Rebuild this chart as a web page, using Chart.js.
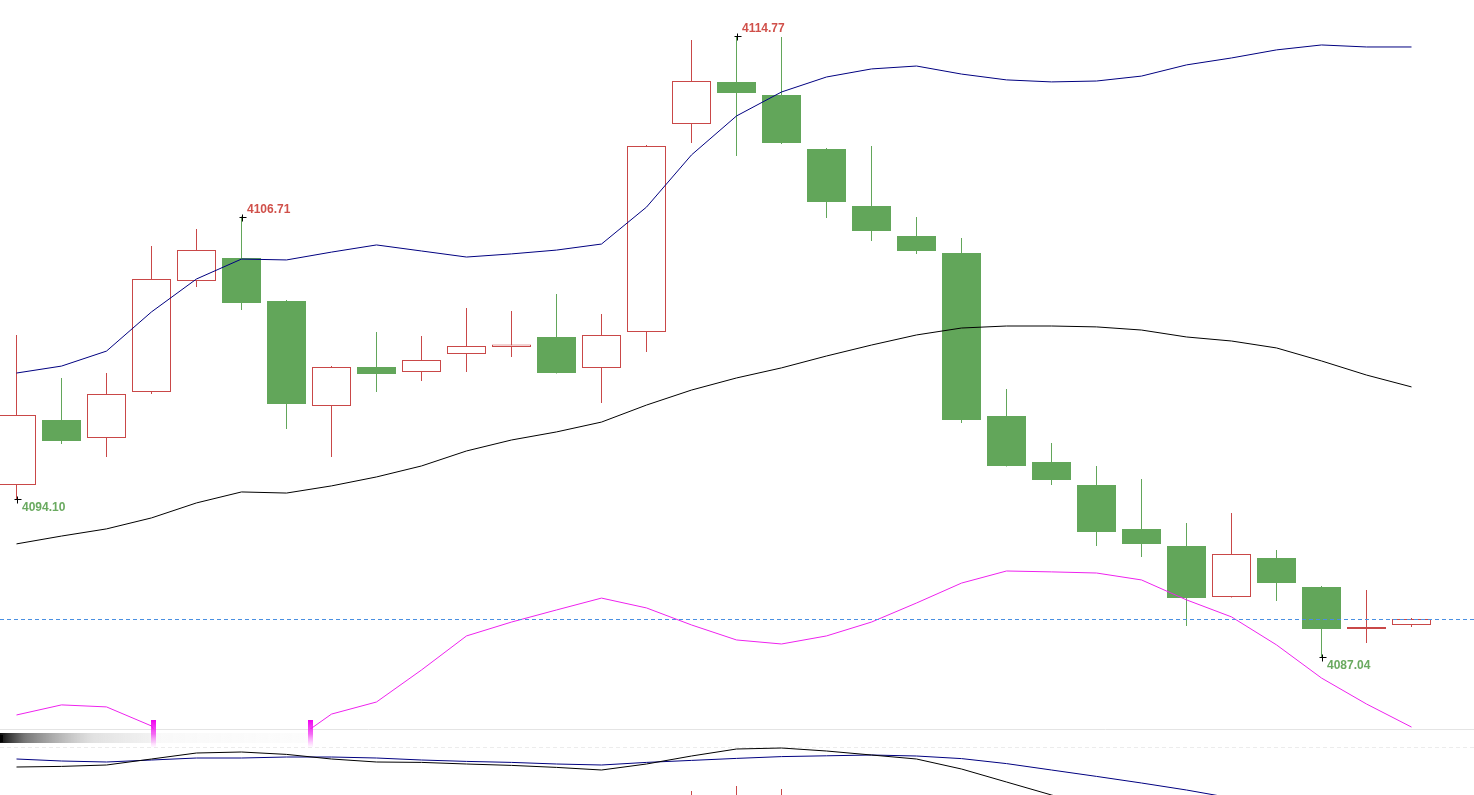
<!DOCTYPE html>
<html><head><meta charset="utf-8">
<script src="https://cdn.jsdelivr.net/npm/chart.js@4.4.0/dist/chart.umd.min.js"></script>
<style>
html,body{margin:0;padding:0;background:#fff;overflow:hidden;width:1474px;height:795px;}
#macd{position:absolute;left:0;top:729px;}
#main{position:absolute;left:0;top:0;}
</style></head><body>
<canvas id="macd" width="1474" height="131"></canvas>
<canvas id="main" width="1474" height="795"></canvas>
<script>
// ---- data ----
const labels = ['1','2','3','4','5','6','7','8','9','10','11','12','13','14','15','16',
                '17','18','19','20','21','22','23','24','25','26','27','28','29','30','31','32'];
const opens  = [4094.72,4097.62,4096.82,4098.87,4103.83,4104.86,4102.94,4098.25,4099.99,4099.77,4100.57,4100.88,4101.33,4099.95,4101.55,4110.84,
                4112.72,4112.14,4109.72,4107.18,4105.84,4105.08,4097.80,4095.75,4094.72,4092.76,4092.00,4089.72,4091.46,4090.17,4088.29,4088.47];
const highs  = [4101.42,4099.50,4099.72,4105.39,4106.15,4106.71,4102.98,4100.03,4101.55,4101.37,4102.62,4102.49,4103.25,4102.36,4109.90,4114.59,
                4114.77,4114.73,4109.77,4109.86,4106.69,4105.75,4099.01,4096.60,4095.57,4094.99,4093.02,4093.47,4091.82,4090.21,4090.03,4088.78];
const lows   = [4094.10,4096.55,4095.97,4098.78,4103.56,4102.53,4097.22,4095.97,4098.87,4099.36,4099.77,4100.44,4099.70,4098.38,4100.66,4109.99,
                4109.41,4109.95,4106.64,4105.62,4105.04,4097.49,4095.55,4094.72,4092.00,4091.51,4088.42,4089.70,4089.54,4087.04,4087.66,4088.38];
const closes = [4097.85,4096.69,4098.78,4103.92,4105.21,4102.85,4098.34,4099.99,4099.68,4100.30,4100.93,4100.99,4099.72,4101.42,4109.86,4112.76,
                4112.22,4109.99,4107.36,4106.06,4105.17,4097.62,4095.57,4094.94,4092.62,4092.09,4089.67,4091.64,4090.34,4088.29,4088.38,4088.74];
const upperBand = [4099.72,4100.03,4100.70,4102.45,4103.92,4104.81,4104.77,4105.12,4105.44,4105.17,4104.90,4105.04,4105.21,4105.48,4107.13,4109.46,
                   4111.20,4112.27,4112.94,4113.30,4113.43,4113.07,4112.81,4112.72,4112.76,4112.98,4113.48,4113.79,4114.15,4114.37,4114.28,4114.28];
const midBand   = [4092.09,4092.44,4092.76,4093.25,4093.92,4094.41,4094.36,4094.68,4095.08,4095.57,4096.24,4096.73,4097.09,4097.53,4098.29,4098.96,
                   4099.50,4099.95,4100.48,4100.97,4101.42,4101.73,4101.82,4101.82,4101.78,4101.64,4101.33,4101.15,4100.84,4100.26,4099.63,4099.10];
const lowerBand = [4084.45,4084.90,4084.81,4083.96,4080.65,4080.40,4083.07,4084.49,4085.03,4086.46,4087.98,4088.60,4089.14,4089.67,4089.23,4088.47,
                   4087.80,4087.62,4087.98,4088.60,4089.45,4090.34,4090.88,4090.84,4090.79,4090.48,4089.59,4088.83,4087.58,4086.10,4084.94,4083.91];
// lower indicator panel
const dif  = [1.80,1.83,1.90,2.20,2.50,2.55,2.43,2.20,2.05,2.03,1.95,1.88,1.78,1.65,1.95,2.35,
              2.70,2.75,2.60,2.40,2.20,1.70,1.05,0.40,-0.25,-0.85,-1.35,-1.75,-2.10,-2.35,-2.50,-2.60];
const dea  = [2.20,2.10,2.05,2.15,2.25,2.25,2.30,2.30,2.25,2.15,2.08,2.03,1.95,1.90,2.03,2.13,
              2.23,2.32,2.36,2.40,2.35,2.22,1.97,1.65,1.33,1.00,0.65,0.25,-0.10,-0.35,-0.55,-0.70];
const hist = [-0.40,-0.30,-0.20,0.05,0.25,0.30,0.10,-0.10,-0.20,-0.15,-0.15,-0.15,-0.20,-0.25,-0.10,0.60,
              0.85,0.70,0.30,0.00,-0.15,-0.50,-0.90,-1.25,-1.60,-1.85,-2.00,-2.00,-2.00,-2.00,-1.95,-1.90];
// marked extremes: candle index and whether the high or low is labelled
const markIndex = [16, 5, 0, 29];
const markKind  = ['high','high','low','low'];

// ---- styles ----
const RED = '#c94848', GREEN = '#62a65a';
const LABEL_RED = '#d0504a', LABEL_GREEN = '#6aaa60';
const YMIN = 4083.824, YMAX = 4116.378;
const isUp = closes.map((c, i) => c >= opens[i]);

const mainPlugin = {
  id: 'mainDecor',
  afterDatasetsDraw(chart) {
    const ctx = chart.ctx, ys = chart.scales.y, xs = chart.scales.x;
    // last price dashed line
    const yl = Math.round(ys.getPixelForValue(closes[closes.length - 1])) + 0.5;
    ctx.save();
    ctx.strokeStyle = '#4a90e2'; ctx.lineWidth = 1; ctx.setLineDash([4, 3]);
    ctx.beginPath(); ctx.moveTo(0, yl); ctx.lineTo(chart.width, yl); ctx.stroke();
    ctx.setLineDash([]);
    // extreme markers and labels
    ctx.font = 'bold 12px "Liberation Sans", Arial, sans-serif';
    ctx.textBaseline = 'middle'; ctx.textAlign = 'left';
    markIndex.forEach((idx, k) => {
      const hi = markKind[k] === 'high';
      const v = hi ? highs[idx] : lows[idx];
      const x = Math.round(xs.getPixelForValue(idx)) + 0.5;
      const y = Math.round(ys.getPixelForValue(v)) + 0.5;
      ctx.strokeStyle = '#000'; ctx.lineWidth = 1;
      ctx.beginPath();
      ctx.moveTo(x - 3, y); ctx.lineTo(x + 4, y);
      ctx.moveTo(x, y - 3); ctx.lineTo(x, y + 4);
      ctx.stroke();
      ctx.fillStyle = hi ? LABEL_RED : LABEL_GREEN;
      ctx.fillText(v.toFixed(2), x + 4.5, hi ? y - 7.5 : y + 8);
    });
    ctx.restore();
  },
  afterDraw(chart) {
    const ctx = chart.ctx, area = chart.chartArea;
    const bottom = area.bottom;
    ctx.save();
    // panel separator
    ctx.strokeStyle = '#e4e4e4'; ctx.lineWidth = 1;
    ctx.beginPath(); ctx.moveTo(0, bottom + 0.5); ctx.lineTo(chart.width, bottom + 0.5); ctx.stroke();
    // faded scroll band at the left
    const g = ctx.createLinearGradient(0, 0, 310, 0);
    g.addColorStop(0, 'rgba(0,0,0,0.95)');
    g.addColorStop(0.08, 'rgba(60,60,60,0.7)');
    g.addColorStop(0.3, 'rgba(170,170,170,0.35)');
    g.addColorStop(0.48, 'rgba(200,200,200,0.25)');
    g.addColorStop(0.5, 'rgba(225,225,225,0.2)');
    g.addColorStop(1, 'rgba(235,235,235,0.15)');
    ctx.fillStyle = g;
    ctx.fillRect(0, bottom + 4, 310, 10);
    ctx.fillStyle = '#000';
    ctx.fillRect(0, bottom + 6, 3, 7);
    // markers where the lower band leaves the panel
    const pts = chart.getDatasetMeta(2).data;
    for (let i = 0; i < pts.length - 1; i++) {
      const a = pts[i], b = pts[i + 1];
      if ((a.y <= bottom) !== (b.y <= bottom)) {
        const t = (bottom - a.y) / (b.y - a.y);
        const x = a.x + t * (b.x - a.x);
        const mg = ctx.createLinearGradient(0, bottom - 9, 0, bottom + 19);
        mg.addColorStop(0, 'rgba(240,0,240,1)');
        mg.addColorStop(0.5, 'rgba(240,40,240,0.7)');
        mg.addColorStop(1, 'rgba(255,120,255,0)');
        ctx.fillStyle = mg;
        ctx.fillRect(Math.round(x) - 2, bottom - 9, 5, 28);
      }
    }
    ctx.restore();
  }
};

new Chart(document.getElementById('main'), {
  type: 'bar',
  data: {
    labels,
    datasets: [
      { type: 'line', label: 'Upper', data: upperBand, borderColor: '#000080', borderWidth: 1, pointRadius: 0, tension: 0, order: 1 },
      { type: 'line', label: 'Middle', data: midBand, borderColor: '#000000', borderWidth: 1, pointRadius: 0, tension: 0, order: 1 },
      { type: 'line', label: 'Lower', data: lowerBand, borderColor: '#ee22ee', borderWidth: 1, pointRadius: 0, tension: 0, order: 1 },
      { type: 'bar', label: 'Body', data: opens.map((o, i) => [o, closes[i]]),
        backgroundColor: isUp.map(u => u ? '#ffffff' : GREEN),
        borderColor: isUp.map(u => u ? RED : GREEN),
        borderWidth: 1, borderSkipped: false, barThickness: 39, grouped: false, clip: false, inflateAmount: 0, order: 2 },
      { type: 'bar', label: 'Wick', data: lows.map((l, i) => [l, highs[i]]),
        backgroundColor: isUp.map(u => u ? RED : GREEN),
        borderWidth: 0, barThickness: 1, grouped: false, clip: false, inflateAmount: 0, order: 3 }
    ]
  },
  options: {
    responsive: false, animation: false, devicePixelRatio: 1,
    layout: { padding: { left: 16.5, right: 62.5, top: 0, bottom: 66 } },
    scales: {
      x: { display: false, offset: false },
      y: { display: false, min: YMIN, max: YMAX }
    },
    plugins: { legend: { display: false }, tooltip: { enabled: false } }
  },
  plugins: [mainPlugin]
});

const macdPlugin = {
  id: 'macdDecor',
  beforeDatasetsDraw(chart) {
    const ctx = chart.ctx;
    const y = Math.round(chart.scales.y.getPixelForValue(2.8)) + 0.5;
    ctx.save();
    ctx.strokeStyle = '#ececec'; ctx.lineWidth = 1; ctx.setLineDash([4, 3]);
    ctx.beginPath(); ctx.moveTo(0, y); ctx.lineTo(chart.width, y); ctx.stroke();
    ctx.restore();
  }
};

new Chart(document.getElementById('macd'), {
  type: 'bar',
  data: {
    labels,
    datasets: [
      { type: 'line', label: 'DIF', data: dif, borderColor: '#000000', borderWidth: 1, pointRadius: 0, tension: 0, order: 1 },
      { type: 'line', label: 'DEA', data: dea, borderColor: '#000080', borderWidth: 1, pointRadius: 0, tension: 0, order: 1 },
      { type: 'bar', label: 'MACD', data: hist, backgroundColor: hist.map(v => v >= 0 ? RED : GREEN),
        barThickness: 1, grouped: false, inflateAmount: 0, order: 2 }
    ]
  },
  options: {
    responsive: false, animation: false, devicePixelRatio: 1,
    layout: { padding: { left: 16.5, right: 62.5, top: 0, bottom: 0 } },
    scales: {
      x: { display: false, offset: false },
      y: { display: false, min: -2.85, max: 3.7 }
    },
    plugins: { legend: { display: false }, tooltip: { enabled: false } }
  },
  plugins: [macdPlugin]
});
</script>
</body></html>
